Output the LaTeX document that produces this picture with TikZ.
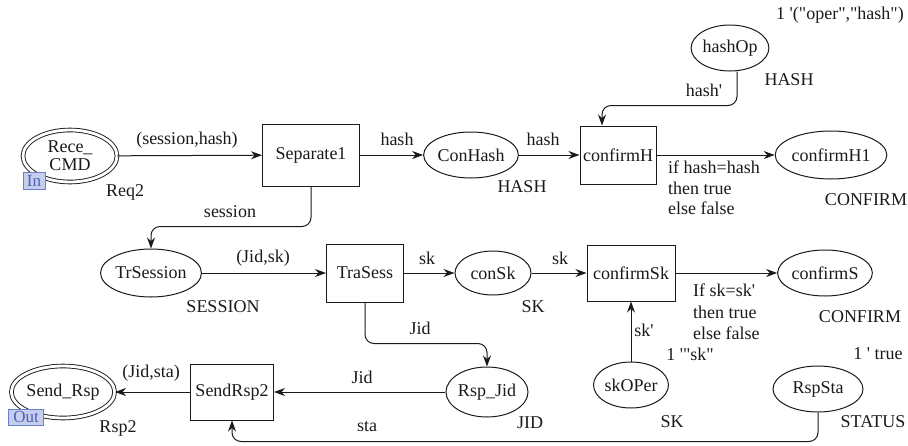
\documentclass[tikz,border=0pt]{standalone}
\usepackage{fontspec}
\setmainfont{Liberation Serif}[Ligatures=TeXOff]
\usetikzlibrary{shapes.geometric,arrows.meta}
\definecolor{inkc}{HTML}{1A1A1A}
\definecolor{portfill}{HTML}{C6CEEE}
\definecolor{portline}{HTML}{6A80CC}
\definecolor{porttext}{HTML}{4A62B8}
\tikzset{
  base/.style={font=\fontsize{18}{21}\selectfont, text=inkc},
  place/.style={base, ellipse, draw=inkc, line width=1pt, inner sep=0pt},
  ioplace/.style={place, double=white, double distance=2.8pt, line width=0.9pt},
  trans/.style={base, rectangle, draw=inkc, line width=1pt, inner sep=0pt},
  arc/.style={draw=inkc, line width=1pt, -{Stealth[length=11pt,width=8pt]}, rounded corners=9pt},
  lbl/.style={base, inner sep=0pt},
  guard/.style={base, inner sep=0pt, align=left, anchor=west, font=\fontsize{18}{20.5}\selectfont},
  port/.style={base, rectangle, draw=portline, fill=portfill, text=porttext, inner sep=1pt, line width=0.8pt, font=\fontsize{17}{17}\selectfont}
}
\begin{document}
\begin{tikzpicture}[x=1pt,y=-1pt]
\useasboundingbox (0,0) rectangle (908,445);

% ---- places and transitions, top row
\node[ioplace, minimum width=94pt, minimum height=52pt, align=center] (rc) at (70,156) {Rece\_\\[-3pt]CMD};
\node[port, minimum width=22pt, minimum height=17pt] (inport) at (34,181) {In};
\node[trans, minimum width=97pt, minimum height=62pt] (sep) at (311,155) {Separate1};
\node[place, minimum width=76pt, minimum height=46pt] (conhash) at (471,155) {ConHash};
\node[trans, minimum width=76pt, minimum height=58pt] (ch) at (618,155) {confirmH};
\node[place, minimum width=64pt, minimum height=46pt] (hop) at (730,48) {hashOp};
\node[place, minimum width=88pt, minimum height=48pt] (ch1) at (831,155) {confirmH1};

% ---- middle row
\node[place, minimum width=88pt, minimum height=48pt] (trs) at (151,273) {TrSession};
\node[trans, minimum width=77pt, minimum height=58pt] (tras) at (365,273) {TraSess};
\node[place, minimum width=76pt, minimum height=44pt] (consk) at (493,273) {conSk};
\node[trans, minimum width=88pt, minimum height=56pt] (csk) at (631,273) {confirmSk};
\node[place, minimum width=88pt, minimum height=46pt] (cs) at (825,273) {confirmS};

% ---- bottom row
\node[ioplace, minimum width=95pt, minimum height=52pt] (sr) at (63,392) {Send\_Rsp};
\node[port, minimum width=35pt, minimum height=16pt] (outport) at (26,417) {Out};
\node[trans, minimum width=83pt, minimum height=56pt] (sr2) at (232,392) {SendRsp2};
\node[place, minimum width=78pt, minimum height=50pt] (rj) at (487,392) {Rsp\_Jid};
\node[place, minimum width=74pt, minimum height=46pt] (sko) at (631,385) {skOPer};
\node[place, minimum width=90pt, minimum height=46pt] (rst) at (818,389) {RspSta};

% ---- arcs
\draw[arc] (rc) -- (sep);
\draw[arc] (sep) -- (conhash);
\draw[arc] (conhash) -- (ch);
\draw[arc] ([xshift=7pt]hop.south) -- ++(0,34) -| ([xshift=-16pt]ch.north);
\draw[arc] (ch) -- (ch1);
\draw[arc] (sep.south) -- ++(0,40) -| (trs.north);
\draw[arc] (trs) -- (tras);
\draw[arc] (tras) -- (consk);
\draw[arc] (consk) -- (csk);
\draw[arc] (csk) -- (cs);
\draw[arc] (sko) -- (csk);
\draw[arc] (tras.south) -- ++(0,41) -| (rj.north);
\draw[arc] (rj) -- (sr2);
\draw[arc] (sr2) -- (sr);
\draw[arc] (rst.south) -- ++(0,29) -| (sr2.south);

% ---- inscriptions
\node[lbl] (l1) at (187,140) {(session,hash)};
\node[lbl] (l2) at (125,192) {Req2};
\node[lbl] (l3) at (397,139) {hash};
\node[lbl] (l4) at (543,139) {hash};
\node[lbl] (l5) at (522,187) {HASH};
\node[lbl] (l6) at (704,90) {hash'};
\node[lbl] (l7) at (789,80) {HASH};
\node[lbl, anchor=east] (l8) at (904,15) {1 '("oper","hash")};
\node[lbl] (l9) at (866,200) {CONFIRM};
\node[guard] (g1) at (668,188) {if hash=hash\\then true\\else false};
\node[lbl] (l10) at (230,212) {session};
\node[lbl] (l11) at (263,258) {(Jid,sk)};
\node[lbl] (l12) at (223,307) {SESSION};
\node[lbl] (l13) at (427,258) {sk};
\node[lbl] (l14) at (560,258) {sk};
\node[lbl] (l15) at (533,307) {SK};
\node[guard, font=\fontsize{18}{21.5}\selectfont] (g2) at (693,312) {If sk=sk'\\then true\\else false};
\node[lbl] (l16) at (860,317) {CONFIRM};
\node[lbl] (l17) at (644,330) {sk'};
\node[lbl] (l18) at (690,354) {1 '"sk"};
\node[lbl] (l19) at (878,354) {1 ' true};
\node[lbl] (l20) at (420,328) {Jid};
\node[lbl] (l21) at (362,377) {Jid};
\node[lbl] (l22) at (151,373) {(Jid,sta)};
\node[lbl] (l23) at (118,428) {Rsp2};
\node[lbl] (l24) at (367,427) {sta};
\node[lbl] (l25) at (530,423) {JID};
\node[lbl] (l26) at (672,422) {SK};
\node[lbl] (l27) at (873,422) {STATUS};
\end{tikzpicture}
\end{document}
